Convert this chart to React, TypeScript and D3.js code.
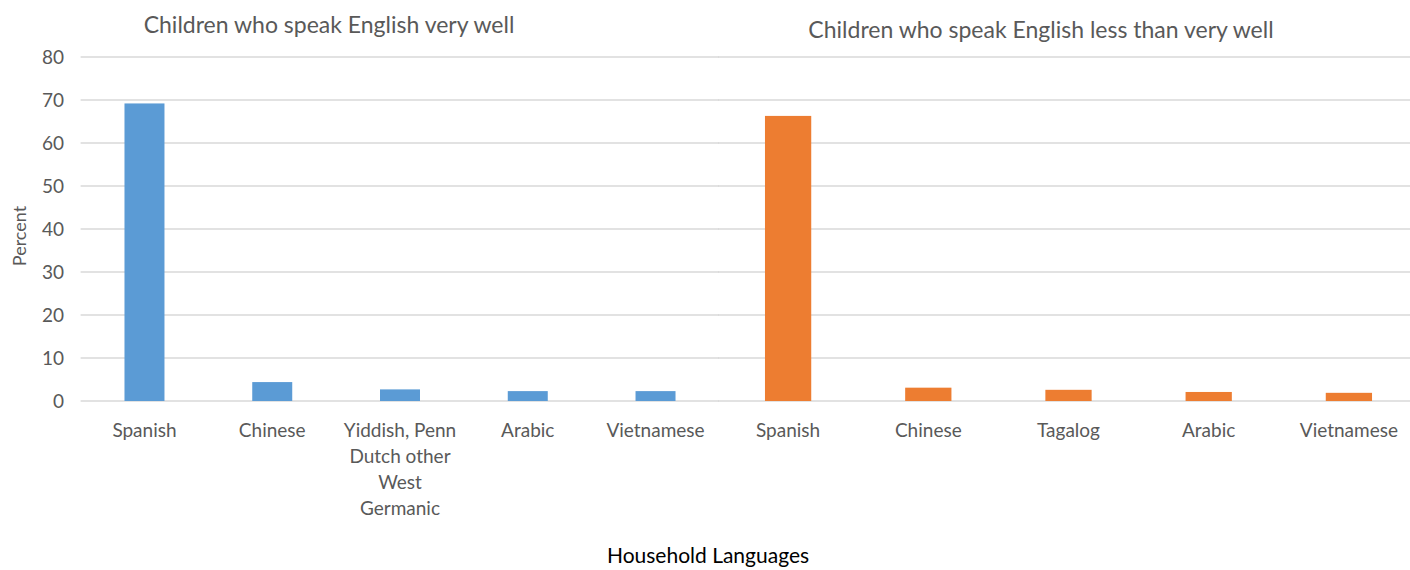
import React from "react";
import * as d3 from "d3";

const leftTitle = "Children who speak English very well";
const rightTitle = "Children who speak English less than very well";
const leftCategories = ["Spanish", "Chinese", "Yiddish, Penn\nDutch other\nWest\nGermanic", "Arabic", "Vietnamese"];
const leftValues = [69.2, 4.4, 2.7, 2.3, 2.3];
const rightCategories = ["Spanish", "Chinese", "Tagalog", "Arabic", "Vietnamese"];
const rightValues = [66.3, 3.1, 2.6, 2.1, 1.9];
const yTicks = [0, 10, 20, 30, 40, 50, 60, 70, 80];
const yLabel = "Percent";
const xLabel = "Household Languages";

const W = 1410;
const H = 570;
const FONT = "Lato, 'Open Sans', sans-serif";
const GRAY = "#595959";

export default function App() {
  const y = d3.scaleLinear().domain([0, 80]).range([401, 57]);
  const xl = d3.scaleBand<string>().domain(leftCategories).range([80.6, 719.4]).paddingInner(0.687).paddingOuter(0.3435);
  const xr = d3.scaleBand<string>().domain(rightCategories).range([718, 1419]).paddingInner(0.67).paddingOuter(0.335);

  const panel = (
    cats: string[],
    vals: number[],
    x: d3.ScaleBand<string>,
    color: string,
    x0: number,
    x1: number,
    key: string
  ) => (
    <g key={key}>
      {yTicks.map((t) => (
        <line key={t} x1={x0} x2={x1} y1={y(t)} y2={y(t)} stroke="#d9d9d9" strokeWidth={t === 0 ? 1.6 : 1.3} />
      ))}
      {cats.map((c, i) => (
        <rect
          key={c}
          x={x(c)}
          width={x.bandwidth()}
          y={y(vals[i])}
          height={y(0) - y(vals[i])}
          fill={color}
        />
      ))}
      {cats.map((c) => {
        const lines = c.split("\n");
        const cx = (x(c) as number) + x.bandwidth() / 2;
        return (
          <text key={c} x={cx} y={437} textAnchor="middle" fontFamily={FONT} fontSize={19} fill={GRAY}>
            {lines.map((l, j) => (
              <tspan key={j} x={cx} dy={j === 0 ? 0 : 26}>
                {l}
              </tspan>
            ))}
          </text>
        );
      })}
    </g>
  );

  return (
    <svg width={W} height={H} style={{ position: "absolute", left: 0, top: 0, background: "#fff" }}>
      {panel(leftCategories, leftValues, xl, "#5B9BD5", 80.6, 719, "l")}
      {panel(rightCategories, rightValues, xr, "#ED7D31", 718, 1410, "r")}
      {yTicks.map((t) => (
        <text key={t} x={64} y={y(t)} dy="0.35em" textAnchor="end" fontFamily={FONT} fontSize={19} fill={GRAY}>
          {t}
        </text>
      ))}
      <text
        transform={`translate(26,236) rotate(-90)`}
        textAnchor="middle"
        fontFamily={FONT}
        fontSize={18}
        fill={GRAY}
      >
        {yLabel}
      </text>
      <text x={329} y={33} textAnchor="middle" fontFamily={FONT} fontSize={23} fill={GRAY}>
        {leftTitle}
      </text>
      <text x={1041} y={38} textAnchor="middle" fontFamily={FONT} fontSize={23} fill={GRAY}>
        {rightTitle}
      </text>
      <text x={708} y={563} textAnchor="middle" fontFamily={FONT} fontSize={21} fill="#000">
        {xLabel}
      </text>
    </svg>
  );
}
